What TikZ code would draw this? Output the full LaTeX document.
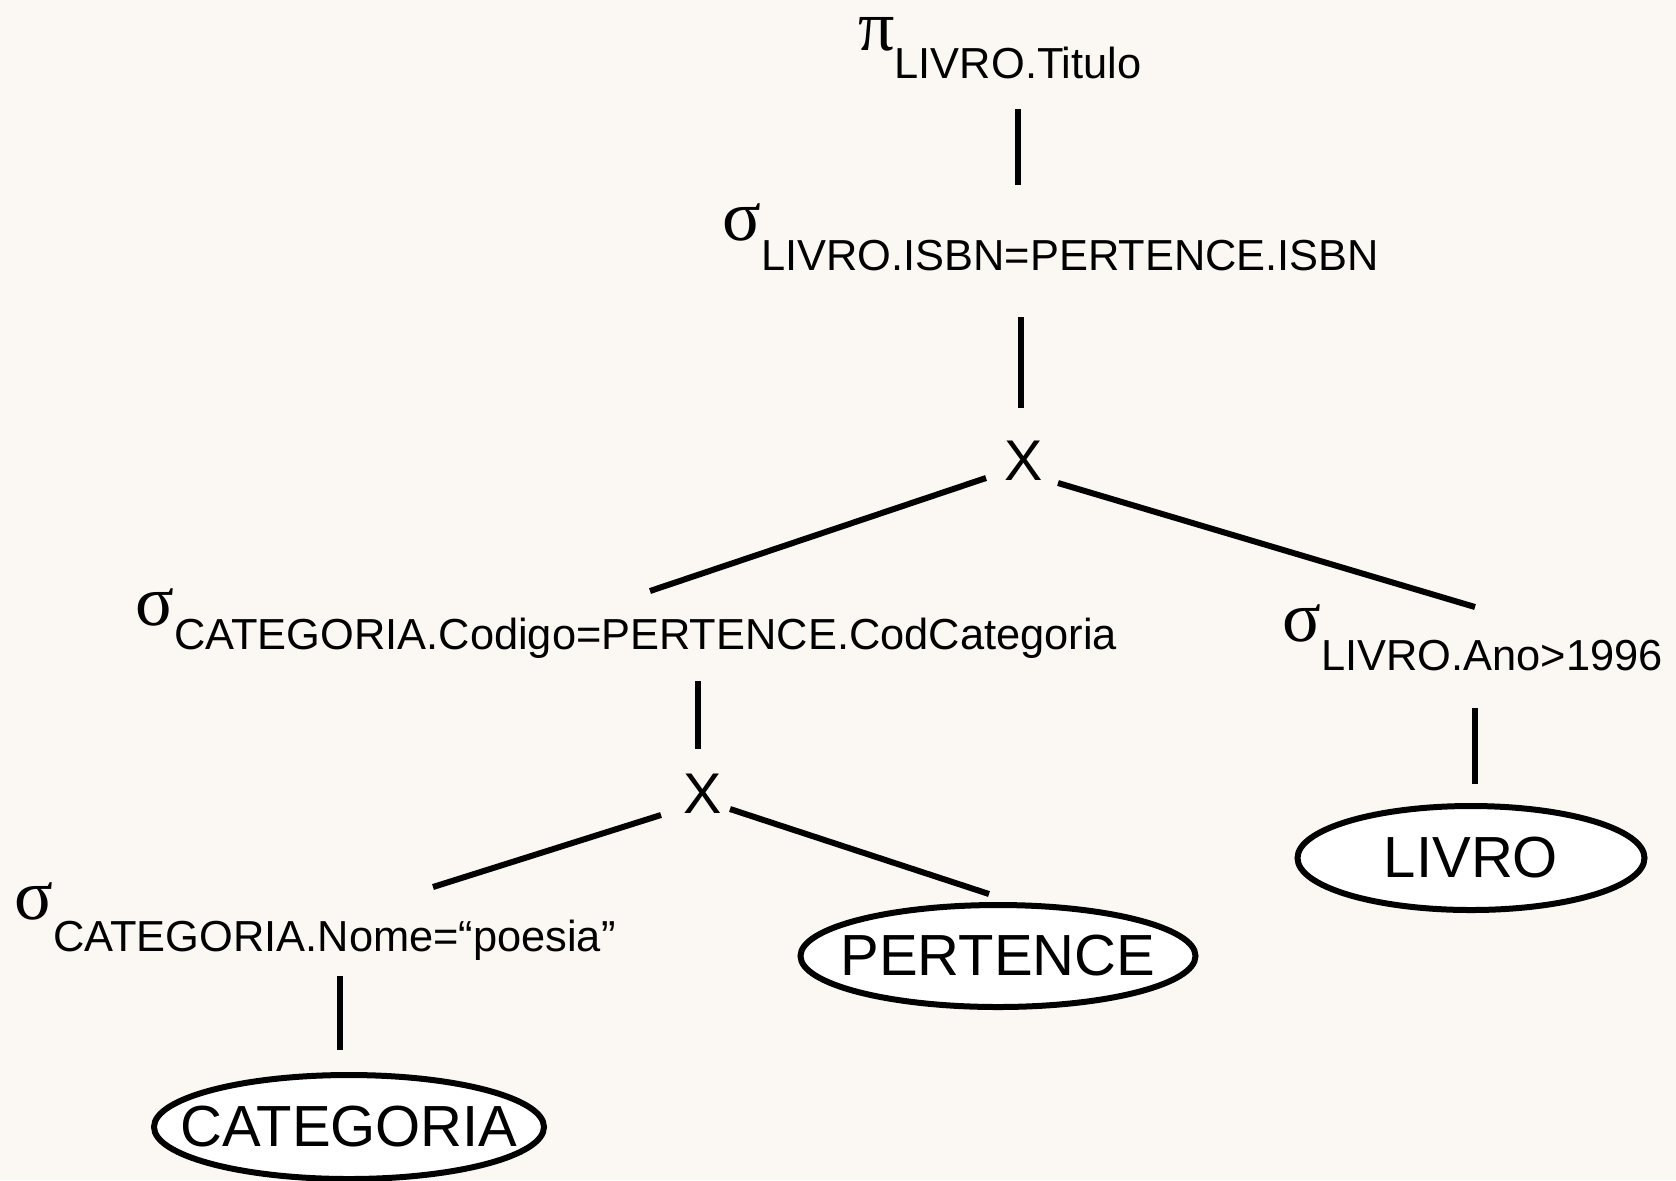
\documentclass[tikz,border=0pt]{standalone}
\usepackage{fontspec}
\setmainfont{Liberation Sans}
\newfontfamily\greek{Liberation Serif}
\usetikzlibrary{calc,shapes.geometric}
\definecolor{paper}{RGB}{251,247,242}
\newcommand{\relop}[3]{{\greek\fontsize{36}{40}\selectfont #1}\raisebox{-#2}{\fontsize{21.7}{24}\selectfont #3}}
\newcommand{\relname}[1]{\makebox[0pt]{#1}}

\begin{document}
\begin{tikzpicture}[x=0.5pt,y=-0.5pt]
        \tikzset{
        ra op/.style={anchor=base west,inner sep=0},
        ra x/.style={inner sep=0,font=\fontsize{28.7}{30}\selectfont},
        ra rel/.style={ellipse,draw,line width=3pt,fill=white,inner sep=0,font=\fontsize{29}{30}\selectfont},
        ra edge/.style={line width=3pt}
        }
        \fill[paper] (0,0) rectangle (1676,1180);
        \useasboundingbox (0,0) rectangle (1676,1180);

        \node[ra op] (pi) at (858,50) {\relop{π}{14pt}{LIVRO.Titulo}};
        \node[ra op] (isbn) at (722,240) {\relop{σ}{15pt}{LIVRO.ISBN=PERTENCE.ISBN}};
        \node[ra x] (x1) at (1024,461) {X};
        \node[ra op] (cod) at (135,625) {\relop{σ}{12pt}{CATEGORIA.Codigo=PERTENCE.CodCategoria}};
        \node[ra op] (ano) at (1282,641) {\relop{σ}{14.5pt}{LIVRO.Ano>1996}};
        \node[ra x] (x2) at (703,794) {X};
        \node[ra op] (nome) at (14,919) {\relop{σ}{16pt}{CATEGORIA.Nome=“poesia”}};
        \node[ra rel,minimum width=173.5pt,minimum height=52pt] (livro) at (1471,858) {\relname{LIVRO}};
        \node[ra rel,minimum width=197.5pt,minimum height=51pt] (pert) at (998,956) {\relname{PERTENCE}};
        \node[ra rel,minimum width=195pt,minimum height=52pt] (categ) at (349,1127) {\relname{CATEGORIA}};

        % tree links
        \draw[ra edge] ($(pi.base west)+(160,59)$) -- ($(isbn.base west)+(296,-55)$);
        \draw[ra edge] ($(isbn.base west)+(299,77)$) -- ($(x1)+(-3,-53)$);
        \draw[ra edge] ($(x1)+(-38,17)$) -- ($(cod.base west)+(515,-34)$);
        \draw[ra edge] ($(x1)+(34,22)$) -- ($(ano.base west)+(193,-34)$);
        \draw[ra edge] ($(cod.base west)+(563,56)$) -- ($(x2)+(-5,-45)$);
        \draw[ra edge] ($(x2)+(-42,21)$) -- ($(nome.base west)+(419,-32)$);
        \draw[ra edge] ($(x2)+(27,15)$) -- ($(pert)+(-9,-62)$);
        \draw[ra edge] ($(ano.base west)+(193,67)$) -- ($(livro)+(4,-74)$);
        \draw[ra edge] ($(nome.base west)+(326,57)$) -- ($(categ)+(-9,-77)$);
\end{tikzpicture}
\end{document}
